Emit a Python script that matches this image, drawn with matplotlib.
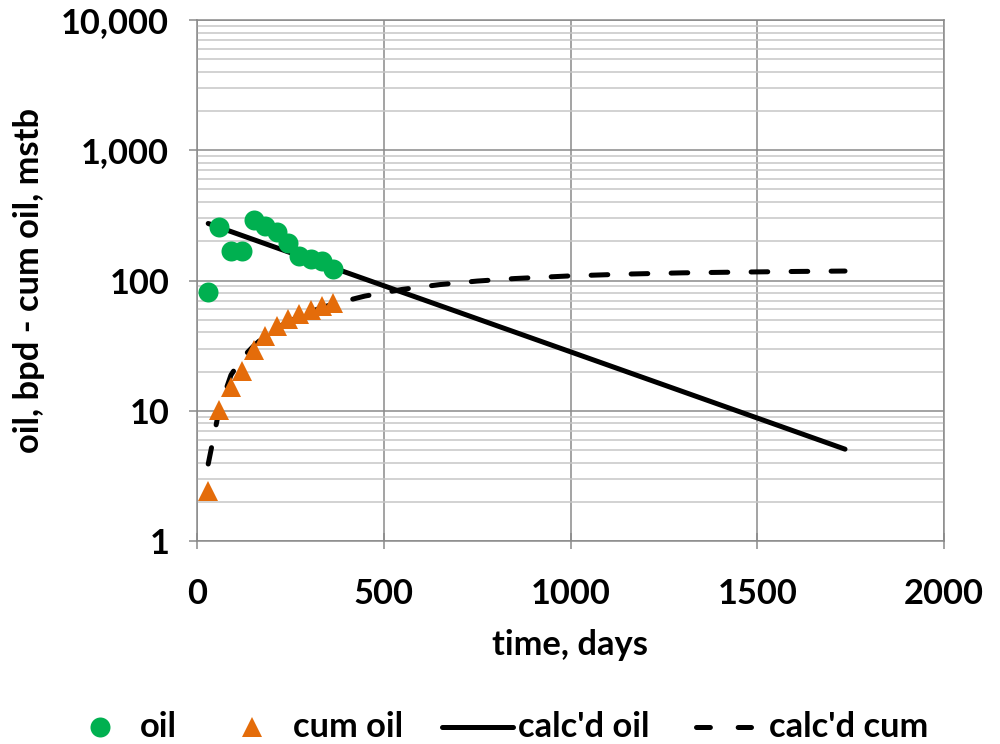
import matplotlib
matplotlib.use("Agg")
import matplotlib.pyplot as plt
from matplotlib.lines import Line2D
from matplotlib.ticker import FixedLocator, FuncFormatter, LogLocator, NullFormatter

# measured monthly production
days = [30, 60, 91, 121, 152, 182, 213, 243, 274, 304, 335, 365]
oil_bpd = [81, 256, 168, 168, 291, 262, 237, 195, 154, 145, 141, 123]
cum_oil_mstb = [2.4, 10.1, 15.3, 20.3, 29.3, 37.2, 44.5, 50.4, 55.2, 59.5, 63.9, 67.6]

# fitted exponential decline (rate) and its cumulative
calc_days = [30, 365, 730, 1095, 1460, 1735]
calc_oil = [274, 125, 53.3, 22.7, 9.66, 5.07]

calc_cum_days = [30, 60, 91, 121, 152, 182, 213, 243, 274, 304, 335, 365,
                 450, 550, 650, 750, 850, 1000, 1150, 1300, 1450, 1600, 1735]
calc_cum = [3.9, 10.4, 18.8, 25.5, 31.5, 37.5, 43.0, 48.0, 53.0, 57.5, 62.0, 66.0,
            76.0, 85.5, 93.0, 99.0, 103.5, 108.5, 112.0, 114.5, 116.0, 117.3, 118.2]

x_ticks = [0, 500, 1000, 1500, 2000]
y_ticks = [1, 10, 100, 1000, 10000]

GREEN = "#00B050"
ORANGE = "#E46C0A"
GRID_MAJOR = "#8a8a8a"
GRID_MINOR = "#c6c6c6"

plt.rcParams["font.family"] = ["Lato", "DejaVu Sans"]
plt.rcParams["font.weight"] = "bold"
plt.rcParams["lines.scale_dashes"] = False
FS = 24.8

fig = plt.figure(figsize=(10, 7.44), dpi=100)
ax = fig.add_axes([0.197, 1 - 541 / 744, 0.747, (541 - 20) / 744])

ax.set_yscale("log")
ax.set_xlim(0, 2000)
ax.set_ylim(1, 10000)

# model curves under the measured points
ax.plot(calc_days, calc_oil, color="black", lw=3.6, solid_capstyle="round", zorder=3)
ax.plot(calc_cum_days, calc_cum, color="black", lw=3.6, dashes=(12, 16.8),
        dash_capstyle="round", zorder=3)
ax.plot(days, oil_bpd, ls="none", marker="o", ms=14.4, color=GREEN, mew=0, zorder=4)
ax.plot(days, cum_oil_mstb, ls="none", marker="^", ms=14.4, color=ORANGE, mew=0, zorder=4)

ax.xaxis.set_major_locator(FixedLocator(x_ticks))
ax.yaxis.set_major_locator(FixedLocator(y_ticks))
ax.yaxis.set_minor_locator(LogLocator(base=10, subs=range(2, 10), numticks=20))
ax.yaxis.set_minor_formatter(NullFormatter())
ax.yaxis.set_major_formatter(FuncFormatter(lambda v, p: f"{v:,.0f}"))

ax.grid(which="major", color=GRID_MAJOR, lw=1.1, zorder=1)
ax.grid(which="minor", axis="y", color=GRID_MINOR, lw=1.1, zorder=0.5)
ax.set_axisbelow(True)

for s in ax.spines.values():
    s.set_color(GRID_MAJOR)
    s.set_linewidth(1.1)

ax.tick_params(axis="x", which="major", direction="inout", length=11, width=1.1,
               color=GRID_MAJOR, labelsize=FS, pad=21)
ax.tick_params(axis="y", which="major", direction="out", length=6, width=1.1,
               color=GRID_MAJOR, labelsize=FS, pad=14)
ax.tick_params(axis="y", which="minor", length=0)
for lab in ax.get_xticklabels() + ax.get_yticklabels():
    lab.set_fontweight("bold")

ax.set_xlabel("time, days", fontsize=FS, fontweight="bold", labelpad=14)
ax.set_ylabel("oil, bpd - cum oil, mstb", fontsize=FS, fontweight="bold", labelpad=12)

# legend row along the bottom
W, H = 1000.0, 744.0
ly = 1 - 727 / H


def fx(px):
    return px / W


fig.add_artist(Line2D([fx(100)], [ly], transform=fig.transFigure, ls="none",
                      marker="o", ms=14.4, color=GREEN, mew=0))
fig.text(fx(140), ly, "oil", fontsize=FS, fontweight="bold", va="center", ha="left")
fig.add_artist(Line2D([fx(252)], [ly], transform=fig.transFigure, ls="none",
                      marker="^", ms=14.4, color=ORANGE, mew=0))
fig.text(fx(293), ly, "cum oil", fontsize=FS, fontweight="bold", va="center", ha="left")
fig.add_artist(Line2D([fx(442), fx(513)], [ly, ly], transform=fig.transFigure,
                      color="black", lw=3.6, solid_capstyle="round"))
fig.text(fx(518), ly, "calc'd oil", fontsize=FS, fontweight="bold", va="center", ha="left")
fig.add_artist(Line2D([fx(696), fx(751)], [ly, ly], transform=fig.transFigure,
                      color="black", lw=3.6, dashes=(10, 20), dash_capstyle="round"))
fig.text(fx(769), ly, "calc'd cum", fontsize=FS, fontweight="bold", va="center", ha="left")

fig.savefig("out.png", dpi=100)
